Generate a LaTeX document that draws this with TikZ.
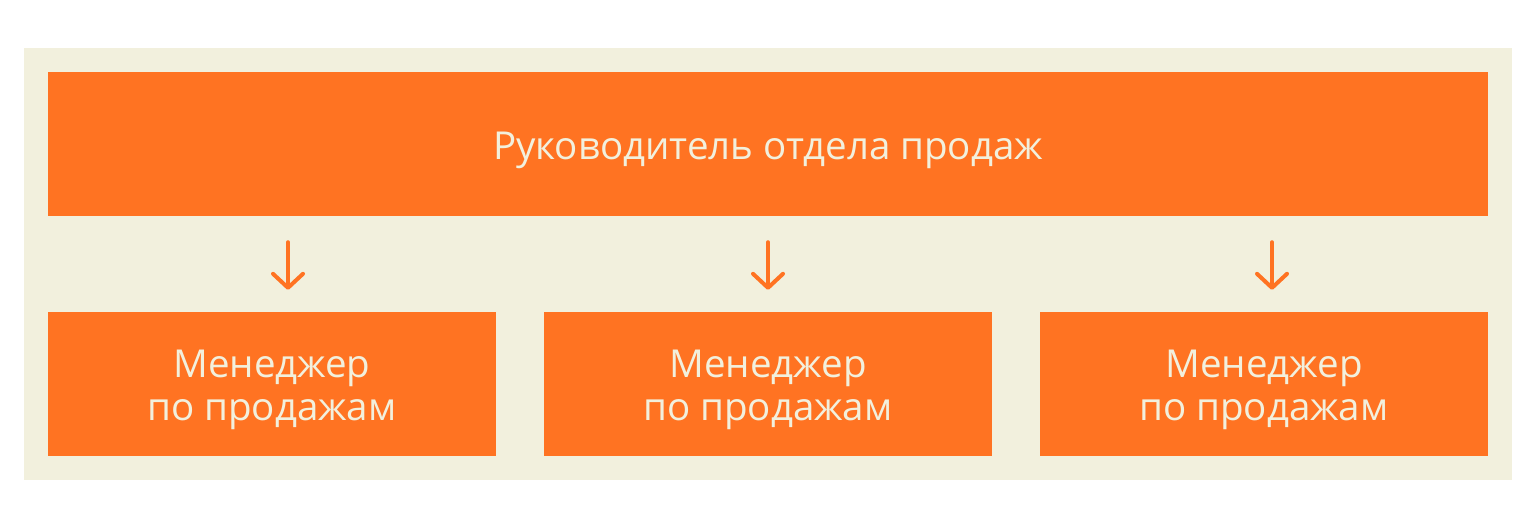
\documentclass[tikz,border=0pt]{standalone}
\usepackage{fontspec}
\setmainfont{Open Sans}
\usetikzlibrary{arrows.meta}
\definecolor{beige}{HTML}{F2F0DD}
\definecolor{orng}{HTML}{FF7322}
\tikzset{
  box/.style={fill=orng, draw=none, inner sep=0pt, minimum height=144pt},
  lbl/.style={text=beige, align=center, inner sep=0pt, yshift=-6pt},
  arr/.style={draw=orng, line width=4pt, line cap=round,
    -{Straight Barb[length=14pt, width=30pt, line width=4pt, round]}}
}
\begin{document}
\begin{tikzpicture}[x=1pt, y=-1pt]
\useasboundingbox (0,0) rectangle (1536,528);
\fill[white] (0,0) rectangle (1536,528);
\fill[beige] (24,48) rectangle (1512,480);
\node[box, minimum width=1440pt, label={[lbl, font=\fontsize{38.5}{44}\selectfont]center:Руководитель отдела продаж}] (top) at (768,144) {};
\node[box, minimum width=448pt, label={[lbl, font=\fontsize{38.5}{43}\selectfont]center:{Менеджер\\по продажам}}] (b1) at (272,384) {};
\node[box, minimum width=448pt, label={[lbl, font=\fontsize{38.5}{43}\selectfont]center:{Менеджер\\по продажам}}] (b2) at (768,384) {};
\node[box, minimum width=448pt, label={[lbl, font=\fontsize{38.5}{43}\selectfont]center:{Менеджер\\по продажам}}] (b3) at (1264,384) {};
\coordinate (c1) at (288,0);
\coordinate (c2) at (768,0);
\coordinate (c3) at (1272,0);
\foreach \c in {c1,c2,c3}{
  \draw[arr, shorten <=26pt, shorten >=22pt] (\c |- top.south) -- (\c |- b1.north);
}
\end{tikzpicture}
\end{document}
